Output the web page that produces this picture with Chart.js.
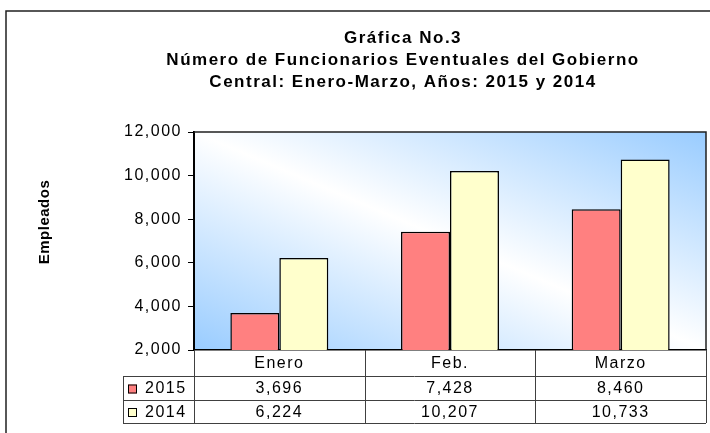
<!DOCTYPE html>
<html>
<head>
<meta charset="utf-8">
<script src="https://cdn.jsdelivr.net/npm/chart.js@4"></script>
<style>
  body { margin: 0; background: #fff; }
  #wrap { width: 710px; height: 433px; }
</style>
</head>
<body>
<div id="wrap"><canvas id="chart" width="710" height="433"></canvas></div>
<script>
const categories = ['Enero', 'Feb.', 'Marzo'];
const seriesLabels = ['2015', '2014'];
const values2015 = [3696, 7428, 8460];
const values2014 = [6224, 10207, 10733];
const titleLines = [
  'Gráfica No.3',
  'Número de Funcionarios Eventuales del Gobierno',
  'Central: Enero-Marzo, Años: 2015 y 2014',
];
const yTitle = 'Empleados';
const yMin = 2000;
const yMax = 12000;
const yStep = 2000;

const FONT = "'Liberation Sans', Arial, sans-serif";
const colors = {
  s2015: '#FF8080',
  s2014: '#FFFFCC',
  blue: '#99CCFF',
  line: '#404040',
};

const fmt = (v) => v.toLocaleString('en-US');

const tablePlugin = {
  id: 'dataTable',
  beforeDraw(chart) {
    const ctx = chart.ctx;
    ctx.letterSpacing = '1.5px';
    const a = chart.chartArea;
    // diagonal gradient, white band running from top-left to bottom-right
    const cx = (a.left + a.right) / 2;
    const cy = (a.top + a.bottom) / 2;
    const w = a.right - a.left;
    const h = a.bottom - a.top;
    const len = Math.hypot(w, h);
    const ux = h / len;
    const uy = -w / len;
    const d = ((-w / 2) * ux + (h / 2) * uy);
    const g = ctx.createLinearGradient(cx + d * ux, cy + d * uy, cx - d * ux, cy - d * uy);
    g.addColorStop(0, colors.blue);
    g.addColorStop(0.5, '#FFFFFF');
    g.addColorStop(1, colors.blue);
    ctx.save();
    ctx.fillStyle = g;
    ctx.fillRect(a.left, a.top, w, h);
    ctx.restore();
  },
  afterDraw(chart) {
    const ctx = chart.ctx;
    const a = chart.chartArea;
    const x = chart.scales.x;
    ctx.save();

    // outer frame
    ctx.strokeStyle = '#202020';
    ctx.lineWidth = 1.5;
    ctx.beginPath();
    ctx.moveTo(6, 433);
    ctx.lineTo(6, 11);
    ctx.lineTo(710, 11);
    ctx.stroke();

    // plot border top / right
    ctx.beginPath();
    ctx.moveTo(a.left, a.top);
    ctx.lineTo(a.right, a.top);
    ctx.lineTo(a.right, a.bottom);
    ctx.stroke();

    // title
    ctx.fillStyle = '#000';
    ctx.font = 'bold 17px ' + FONT;
    ctx.letterSpacing = '1.5px';
    ctx.textAlign = 'center';
    ctx.textBaseline = 'middle';
    titleLines.forEach((t, i) => ctx.fillText(t, 403, 38.5 + i * 21.8));

    // y axis title
    ctx.save();
    ctx.translate(45, 222);
    ctx.rotate(-Math.PI / 2);
    ctx.font = 'bold 15px ' + FONT;
    ctx.letterSpacing = '0.5px';
    ctx.fillText(yTitle, 0, 0);
    ctx.restore();

    // data table
    const rowTops = [a.bottom, a.bottom + 26, a.bottom + 50, a.bottom + 73];
    const tableLeft = 123;
    const bounds = [a.left];
    categories.forEach((c, i) => {
      bounds.push(i === categories.length - 1 ? a.right : (x.getPixelForValue(i) + x.getPixelForValue(i + 1)) / 2);
    });
    ctx.strokeStyle = colors.line;
    ctx.lineWidth = 1;
    ctx.beginPath();
    for (let r = 1; r < rowTops.length; r++) {
      ctx.moveTo(tableLeft, rowTops[r] + 0.5);
      ctx.lineTo(a.right, rowTops[r] + 0.5);
    }
    ctx.moveTo(tableLeft + 0.5, rowTops[1]);
    ctx.lineTo(tableLeft + 0.5, rowTops[3]);
    bounds.forEach((b) => {
      ctx.moveTo(Math.round(b) + 0.5, rowTops[0]);
      ctx.lineTo(Math.round(b) + 0.5, rowTops[3]);
    });
    ctx.stroke();

    ctx.font = '16px ' + FONT;
    ctx.letterSpacing = '1.5px';
    chart.data.datasets.forEach((ds, r) => {
      const cy = (rowTops[r + 1] + rowTops[r + 2]) / 2 + 1;
      // legend key
      ctx.fillStyle = ds.backgroundColor;
      ctx.fillRect(128, cy - 4.5, 9, 9);
      ctx.strokeStyle = '#000';
      ctx.lineWidth = 1;
      ctx.strokeRect(128.5, cy - 4, 8, 8);
      ctx.fillStyle = '#000';
      ctx.textAlign = 'left';
      ctx.fillText(ds.label, 145, cy);
      ctx.textAlign = 'center';
      ds.data.forEach((v, i) => {
        ctx.fillText(fmt(v), x.getPixelForValue(i), cy);
      });
    });
    ctx.restore();
  },
};

new Chart(document.getElementById('chart'), {
  type: 'bar',
  data: {
    labels: categories,
    datasets: [
      {
        label: seriesLabels[0],
        data: values2015,
        backgroundColor: colors.s2015,
        borderColor: '#000',
        borderWidth: 1.5,
      },
      {
        label: seriesLabels[1],
        data: values2014,
        backgroundColor: colors.s2014,
        borderColor: '#000',
        borderWidth: 1.5,
      },
    ],
  },
  options: {
    responsive: false,
    animation: false,
    layout: { padding: { left: 0, top: 132, right: 4, bottom: 0 } },
    plugins: {
      legend: { display: false },
      title: { display: false },
      tooltip: { enabled: false },
    },
    datasets: {
      bar: { categoryPercentage: 0.574, barPercentage: 1.0 },
    },
    scales: {
      x: {
        afterFit: (scale) => { scale.height = 83; },
        grid: { display: false, drawTicks: false },
        border: { display: true, color: '#000', width: 1.5 },
        ticks: { color: '#000', font: { family: FONT, size: 16 }, padding: 4, maxRotation: 0 },
      },
      y: {
        min: yMin,
        max: yMax,
        afterFit: (scale) => { scale.width = 194; },
        grid: { drawOnChartArea: false, drawTicks: true, tickLength: 6, color: '#000' },
        border: { display: true, color: '#000', width: 2 },
        ticks: {
          stepSize: yStep,
          color: '#000',
          padding: 6,
          font: { family: FONT, size: 16 },
          callback: (v) => fmt(v),
        },
      },
    },
  },
  plugins: [tablePlugin],
});
</script>
</body>
</html>
